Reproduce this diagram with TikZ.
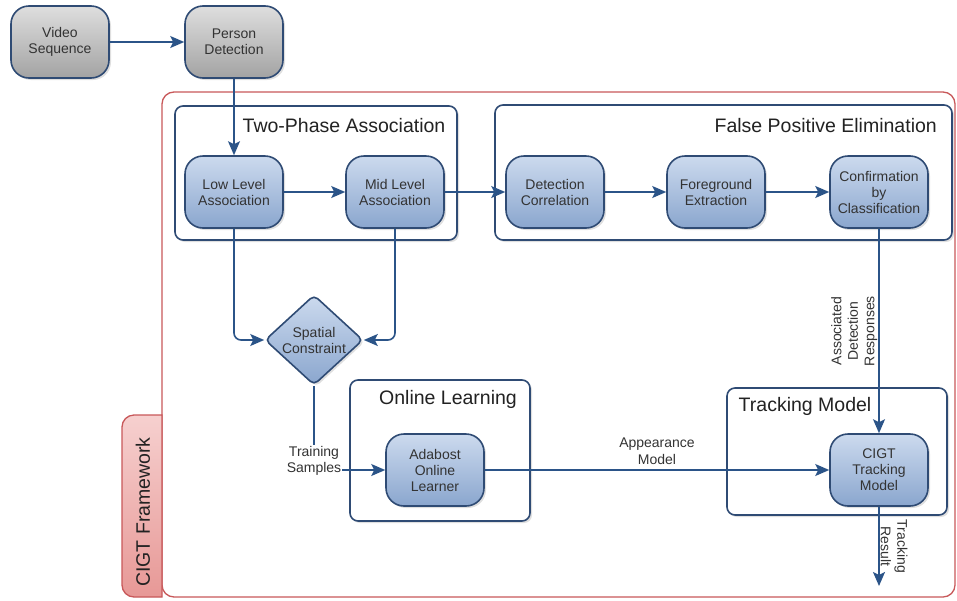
\documentclass[tikz,border=0pt]{standalone}
\usepackage{fontspec}
\setmainfont{Liberation Sans}
\usetikzlibrary{arrows.meta,shapes.geometric,shadows}
\definecolor{edgeblue}{HTML}{2B5488}
\definecolor{nodetop}{HTML}{CCDAEE}
\definecolor{nodebot}{HTML}{8AA6CE}
\definecolor{nodeborder}{HTML}{2F4B74}
\definecolor{graytop}{HTML}{DEDEDE}
\definecolor{graybot}{HTML}{A3A3A3}
\definecolor{framered}{HTML}{C8585A}
\definecolor{tabtop}{HTML}{F6D0CF}
\definecolor{tabbot}{HTML}{E79896}
\definecolor{txt}{HTML}{333333}
\definecolor{ttl}{HTML}{222222}
\tikzset{
  proc/.style={draw=nodeborder, line width=1.6pt, rounded corners=18pt,
    minimum width=98pt, minimum height=72pt, top color=nodetop, bottom color=nodebot,
    align=center, font=\fontsize{14}{16}\selectfont, text=txt, inner sep=2pt,
    drop shadow={opacity=0.25, shadow xshift=2pt, shadow yshift=-2pt}},
  grayproc/.style={proc, top color=graytop, bottom color=graybot},
  decision/.style={diamond, draw=nodeborder, line width=1.6pt, rounded corners=5pt,
    minimum width=98pt, minimum height=78pt, inner sep=0pt, top color=nodetop, bottom color=nodebot,
    align=center, font=\fontsize{14}{16}\selectfont, text=txt,
    drop shadow={opacity=0.25, shadow xshift=2pt, shadow yshift=-2pt}},
  group/.style={draw=nodeborder, line width=1.6pt, rounded corners=8pt, fill=white,
    drop shadow={opacity=0.25, shadow xshift=2pt, shadow yshift=-2pt}},
  gtitle/.style={font=\fontsize{19.5}{22}\selectfont, text=ttl, inner sep=0pt},
  arr/.style={draw=edgeblue, line width=1.6pt, -{Stealth[length=14pt,width=12pt,inset=3pt]}},
  elabel/.style={font=\fontsize{14}{16.5}\selectfont, text=txt, align=center, inner sep=1pt},
}
\begin{document}
\begin{tikzpicture}[x=1pt,y=-1pt]
\useasboundingbox[fill=white] (0,0) rectangle (957,600);
% outer framework
\draw[framered, line width=1.3pt, fill=white, rounded corners=12pt] (162,92) rectangle (955,597);
\path[draw=framered, line width=1.3pt, top color=tabtop, bottom color=tabbot]
  [rounded corners=12pt] (162,415) -- (122,415) -- (122,597) [sharp corners] -- (162,597) -- cycle;
\node[rotate=90, font=\fontsize{19.5}{22}\selectfont, text=ttl] (fw) at (143,512) {CIGT Framework};
% groups
\node[group, minimum width=282pt, minimum height=134pt] (tpa) at (316,173) {};
\node[gtitle] (tpat) at (344,126) {Two-Phase Association};
\node[group, minimum width=457pt, minimum height=135pt] (fpe) at (723.5,172.5) {};
\node[gtitle, anchor=east] (fpet) at (937,126) {False Positive Elimination};
\node[group, minimum width=180pt, minimum height=141pt] (ol) at (440,450.5) {};
\node[gtitle] (olt) at (448,399) {Online Learning};
\node[group, minimum width=220pt, minimum height=127pt] (tm) at (837,451.5) {};
\node[gtitle] (tmt) at (805,406) {Tracking Model};
% nodes
\node[grayproc] (vs) at (60,42) {Video\\Sequence};
\node[grayproc] (pd) at (234,42) {Person\\Detection};
\node[proc] (lla) at (234,192) {Low Level\\Association};
\node[proc] (mla) at (395,192) {Mid Level\\Association};
\node[proc] (dc) at (555,192) {Detection\\Correlation};
\node[proc] (fe) at (716,192) {Foreground\\Extraction};
\node[proc] (cbc) at (879,192) {Confirmation\\by\\Classification};
\node[decision] (sc) at (314,340) {Spatial\\Constraint};
\node[proc] (ada) at (435,470) {Adabost\\Online\\Learner};
\node[proc] (cigt) at (879,470) {CIGT\\Tracking\\Model};
\coordinate (tr) at (879,586);
% edges
\draw[arr] (vs) -- (pd);
\draw[arr] (pd) -- (lla);
\draw[arr] (lla) -- (mla);
\draw[arr] (mla) -- (dc);
\draw[arr] (dc) -- (fe);
\draw[arr] (fe) -- (cbc);
\draw[arr, rounded corners=7pt] (lla.south) |- (sc.west);
\draw[arr, rounded corners=7pt] (mla.south) |- (sc.east);
\draw[arr] (sc.south) |- node[elabel, pos=0.5, fill=white, yshift=9pt] (tsl) {Training\\Samples} (ada.west);
\draw[arr] (ada) -- node[elabel, above=4pt] (aml) {Appearance\\Model} (cigt);
\draw[arr] (cbc) -- node[elabel, pos=0.5, rotate=90, anchor=south] (adr) {Associated\\Detection\\Responses} (cigt);
\draw[arr] (cigt) -- node[elabel, pos=0.5, rotate=-90, anchor=south] (trl) {Tracking\\Result} (tr);
\end{tikzpicture}
\end{document}
